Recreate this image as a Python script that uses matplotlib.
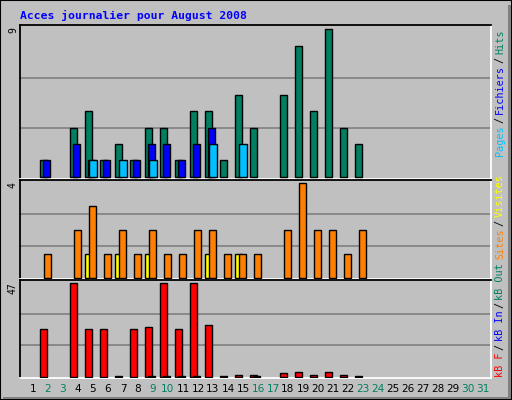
import matplotlib
matplotlib.use("Agg")
import matplotlib.pyplot as plt
from matplotlib.patches import Rectangle

days = list(range(1, 32))
weekend = [2, 3, 9, 10, 16, 17, 23, 24, 30, 31]
hits = {2: 1, 4: 3, 5: 4, 6: 1, 7: 2, 8: 1, 9: 3, 10: 3, 11: 1, 12: 4, 13: 4, 14: 1,
        15: 5, 16: 3, 18: 5, 19: 8, 20: 4, 21: 9, 22: 3, 23: 2}
files = {2: 1, 4: 2, 5: 1, 6: 1, 8: 1, 9: 2, 10: 2, 11: 1, 12: 2, 13: 3}
pages = {5: 1, 7: 1, 9: 1, 13: 2, 15: 2}
visits = {5: 1, 7: 1, 9: 1, 13: 1, 15: 1}
sites = {2: 1, 4: 2, 5: 3, 6: 1, 7: 2, 8: 1, 9: 2, 10: 1, 11: 1, 12: 2, 13: 2, 14: 1,
         15: 1, 16: 1, 18: 2, 19: 4, 20: 2, 21: 2, 22: 1, 23: 2}
kbf = {2: 24, 4: 47, 5: 24, 6: 24, 7: 0.3, 8: 24, 9: 25, 10: 47, 11: 24, 12: 47, 13: 26,
       14: 0.3, 15: 0.8, 16: 0.8, 18: 1.7, 19: 2.2, 20: 1, 21: 2.2, 22: 1, 23: 0.3}
kbin = {9: 0.3, 10: 0.3, 11: 0.3, 12: 0.3, 16: 0.3}
max_top, max_mid, max_bot = 9, 4, 47

BG = "#C0C0C0"
W, H = 512, 400
fig = plt.figure(figsize=(W / 100, H / 100), dpi=100, facecolor=BG)

fig.patches.append(Rectangle((0, 0), 1, 1, transform=fig.transFigure, fc="none", ec="black", lw=1.5))
fig.patches.append(Rectangle((3 / W, 1 / H), 1 - 4 / W, 2.5 / H, transform=fig.transFigure, fc="#808080", ec="none"))
fig.patches.append(Rectangle((1 - 4 / W, 1 / H), 2.5 / W, 1 - 6 / H, transform=fig.transFigure, fc="#808080", ec="none"))

x0, x1 = 20, 491
xl = (1 - 13 / 15, 1 + (x1 - 33) / 15)
bw = 7.3 / 15


def mkax(ytop, ybot, vmax):
    ax = fig.add_axes([x0 / W, 1 - ybot / H, (x1 - x0) / W, (ybot - ytop) / H])
    ax.set_facecolor(BG)
    ax.set_xlim(*xl)
    ax.set_ylim(-0.015 * vmax, 1.028 * vmax)
    for v in (vmax / 3, 2 * vmax / 3):
        ax.axhline(v, color="#808080", lw=1.2, zorder=0)
    ax.set_xticks([]); ax.set_yticks([])
    for s in ("top", "left"):
        ax.spines[s].set_color("black"); ax.spines[s].set_linewidth(1.3)
    for s in ("bottom", "right"):
        ax.spines[s].set_color("white"); ax.spines[s].set_linewidth(1.3)
    return ax


def bars(ax, data, off, color):
    d = sorted(data)
    ax.bar([k - 8 / 15 + off / 15 for k in d], [data[k] for k in d], width=bw, align="edge",
           color=color, edgecolor="black", lw=1, zorder=3)


ax1 = mkax(25, 179, max_top)
bars(ax1, hits, 0, "#008060")
bars(ax1, files, 2.6, "#0000FF")
bars(ax1, pages, 4.3, "#00C0FF")

ax2 = mkax(180, 279, max_mid)
bars(ax2, visits, 0, "#FFFF00")
bars(ax2, sites, 3.7, "#FF8000")

ax3 = mkax(280, 378, max_bot)
bars(ax3, kbf, 0, "#FF0000")
bars(ax3, kbin, 2.6, "#0000FF")

fig.text(20 / W, 1 - 15 / H, "Acces journalier pour August 2008", color="#0000FF",
         family="DejaVu Sans Mono", weight="bold", fontsize=8.2, va="center", ha="left")

for y, t in ((27, str(max_top)), (182, str(max_mid)), (282, str(max_bot))):
    fig.text(13 / W, 1 - y / H, t, rotation=90, ha="center", va="top",
             family="DejaVu Sans Mono", fontsize=7)

for d in days:
    fig.text((33 + 15 * (d - 1)) / W, 1 - 389 / H, str(d), ha="center", va="center",
             fontsize=7.6, color="#008060" if d in weekend else "black")

fig.canvas.draw()
rend = fig.canvas.get_renderer()


def vstack(segs, y, anchor_top):
    texts = []
    heights = []
    for s, c in segs:
        t = fig.text(0, 0, s, rotation=90, color=c, family="DejaVu Sans Mono", fontsize=7.3,
                     ha="center", va="bottom")
        bb = t.get_window_extent(rend)
        texts.append(t); heights.append(bb.height + 2.5)
    total = sum(heights)
    ybot = (H - y - total) if anchor_top else (H - y)
    for t, h in zip(texts, heights):
        t.set_position((500 / W, ybot / H))
        ybot += h


vstack([("Pages", "#00C0FF"), ("/", "black"), ("Fichiers", "#0000FF"), ("/", "black"), ("Hits", "#008060")], 27, True)
vstack([("Sites", "#FF8000"), ("/", "black"), ("Visites", "#FFFF00")], 172, True)
vstack([("kB F", "#FF0000"), ("/", "black"), ("kB In", "#0000FF"), ("/", "black"), ("kB Out", "#008060")], 377, False)

fig.savefig("out.png", dpi=100, facecolor=BG)
